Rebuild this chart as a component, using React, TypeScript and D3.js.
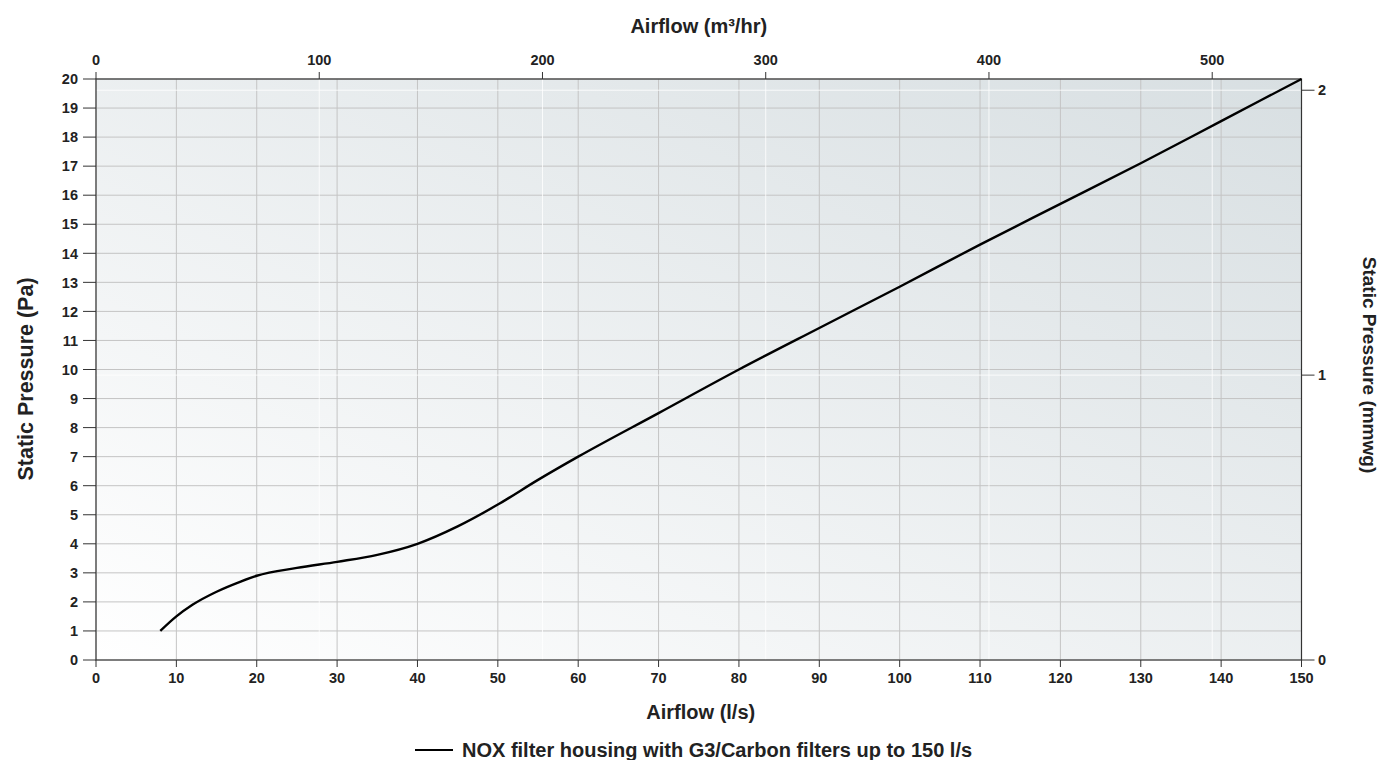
import React from "react";
import * as d3 from "d3";

const flowLs = [8, 10, 12, 15, 18, 20, 25, 30, 35, 40, 45, 50, 55, 60, 70, 80, 90, 100, 110, 120, 130, 140, 150];
const pressurePa = [1.0, 1.5, 1.9, 2.35, 2.7, 2.9, 3.17, 3.38, 3.62, 4.0, 4.6, 5.35, 6.2, 7.0, 8.5, 10.0, 11.43, 12.85, 14.3, 15.7, 17.1, 18.55, 20.0];
const xTicksLs = d3.range(0, 151, 10);
const yTicksPa = d3.range(0, 21, 1);
const topTicksM3 = [0, 100, 200, 300, 400, 500];
const rightTicksMm = [0, 1, 2];
const seriesName = "NOX filter housing with G3/Carbon filters up to 150 l/s";

const W = 1382, H = 760;
const left = 96, right = 1301.5, top = 79, bottom = 660;
const font = "'Liberation Sans', Arial, sans-serif";
const tickFs = 14.5;

export default function App() {
  const x = d3.scaleLinear().domain([0, 150]).range([left, right]);
  const y = d3.scaleLinear().domain([0, 20]).range([bottom, top]);
  const xTop = d3.scaleLinear().domain([0, 150 * 3.6]).range([left, right]);
  const yRight = d3.scaleLinear().domain([0, 20 / 9.80665]).range([bottom, top]);
  const line = d3.line<number>().x((d, i) => x(flowLs[i])).y((d) => y(d)).curve(d3.curveMonotoneX);
  const path = line(pressurePa) || "";
  return (
    <svg width={W} height={H} style={{ position: "absolute", left: 0, top: 0, fontFamily: font }}>
      <defs>
        <linearGradient id="bg" x1="0" y1="1" x2="1" y2="0">
          <stop offset="0" stopColor="#ffffff" />
          <stop offset="1" stopColor="#d8dfe2" />
        </linearGradient>
      </defs>
      <rect x={left} y={top} width={right - left} height={bottom - top} fill="url(#bg)" />
      {xTicksLs.map((t) => (
        <line key={"gx" + t} x1={x(t)} x2={x(t)} y1={top} y2={bottom} stroke="#c4c4c4" strokeWidth={1} />
      ))}
      {yTicksPa.map((t) => (
        <line key={"gy" + t} x1={left} x2={right} y1={y(t)} y2={y(t)} stroke="#c4c4c4" strokeWidth={1} />
      ))}
      {topTicksM3.map((t) => (
        <line key={"gt" + t} x1={xTop(t)} x2={xTop(t)} y1={top} y2={bottom} stroke="#ffffff" strokeOpacity={0.8} strokeWidth={1} />
      ))}
      {rightTicksMm.map((t) => (
        <line key={"gr" + t} x1={left} x2={right} y1={yRight(t)} y2={yRight(t)} stroke="#ffffff" strokeOpacity={0.8} strokeWidth={1} />
      ))}
      <rect x={left} y={top} width={right - left} height={bottom - top} fill="none" stroke="#333" strokeWidth={1.2} />
      <path d={path} fill="none" stroke="#000" strokeWidth={2.4} />
      {yTicksPa.map((t) => (
        <g key={"ly" + t}>
          <line x1={left - 13} x2={left} y1={y(t)} y2={y(t)} stroke="#333" />
          <text x={78} y={y(t)} dy="0.36em" textAnchor="end" fontSize={tickFs} fontWeight="bold" fill="#222">{t}</text>
        </g>
      ))}
      {xTicksLs.map((t) => (
        <g key={"bx" + t}>
          <line x1={x(t)} x2={x(t)} y1={bottom} y2={bottom + 7} stroke="#333" />
          <text x={x(t)} y={bottom + 23} textAnchor="middle" fontSize={tickFs} fontWeight="bold" fill="#222">{t}</text>
        </g>
      ))}
      {topTicksM3.map((t) => (
        <g key={"tx" + t}>
          <line x1={xTop(t)} x2={xTop(t)} y1={top - 7} y2={top} stroke="#333" />
          <text x={xTop(t)} y={65} textAnchor="middle" fontSize={tickFs} fontWeight="bold" fill="#222">{t}</text>
        </g>
      ))}
      {rightTicksMm.map((t) => (
        <g key={"ry" + t}>
          <line x1={right} x2={right + 13} y1={yRight(t)} y2={yRight(t)} stroke="#333" />
          <text x={1318} y={yRight(t)} dy="0.36em" textAnchor="start" fontSize={tickFs} fontWeight="bold" fill="#222">{t}</text>
        </g>
      ))}
      <text x={(left + right) / 2} y={33} textAnchor="middle" fontSize={20} fontWeight="bold" fill="#222">Airflow (m³/hr)</text>
      <text x={(left + right) / 2 + 2} y={719} textAnchor="middle" fontSize={20} fontWeight="bold" fill="#222">Airflow (l/s)</text>
      <text transform={`translate(33,379) rotate(-90)`} textAnchor="middle" fontSize={21.5} fontWeight="bold" fill="#222">Static Pressure (Pa)</text>
      <text transform={`translate(1363,365) rotate(90)`} textAnchor="middle" fontSize={19} fontWeight="bold" fill="#222">Static Pressure (mmwg)</text>
      <line x1={415} x2={453} y1={750} y2={750} stroke="#000" strokeWidth={2} />
      <text x={462} y={757} fontSize={20} fontWeight="bold" fill="#222">{seriesName}</text>
    </svg>
  );
}
